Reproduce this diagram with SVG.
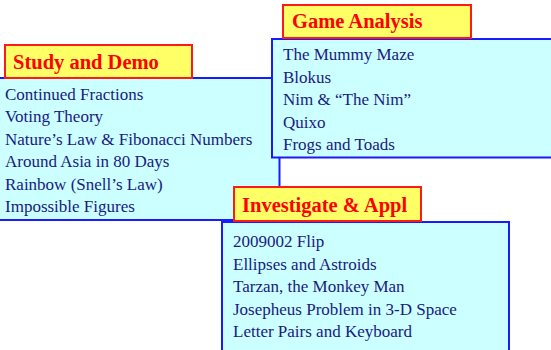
<svg xmlns="http://www.w3.org/2000/svg" width="551" height="350" viewBox="0 0 551 350">
  <style>
    .panel { fill: #ccffff; stroke: #1a1aff; stroke-width: 2; }
    .tag { fill: #ffff66; stroke: #ff1a1a; stroke-width: 2; }
    .tag-text { font-family: "Liberation Serif", serif; font-size: 20.5px; font-weight: bold; fill: #ff0000; }
    .item { font-family: "Liberation Serif", serif; font-size: 17px; fill: #1a1a80; }
  </style>
  <rect width="551" height="350" fill="#ffffff"/>

  <!-- Study and Demo -->
  <g id="study-demo">
    <rect class="panel" x="-5" y="78" width="284.5" height="142"/>
    <rect class="tag" x="5" y="45" width="187" height="33"/>
    <text class="tag-text" x="13" y="69">Study and Demo</text>
    <text class="item" x="5" y="99.5">Continued Fractions</text>
    <text class="item" x="5" y="122">Voting Theory</text>
    <text class="item" x="5" y="144.5">Nature’s Law &amp; Fibonacci Numbers</text>
    <text class="item" x="5" y="167">Around Asia in 80 Days</text>
    <text class="item" x="5" y="189.5">Rainbow (Snell’s Law)</text>
    <text class="item" x="5" y="212">Impossible Figures</text>
  </g>

  <!-- Game Analysis -->
  <g id="game-analysis">
    <rect class="panel" x="272" y="39" width="285" height="118.5"/>
    <rect class="tag" x="283" y="5" width="188" height="33"/>
    <text class="tag-text" x="292" y="28">Game Analysis</text>
    <text class="item" x="283" y="60">The Mummy Maze</text>
    <text class="item" x="283" y="82.5">Blokus</text>
    <text class="item" x="283" y="105">Nim &amp; “The Nim”</text>
    <text class="item" x="283" y="127.5">Quixo</text>
    <text class="item" x="283" y="150">Frogs and Toads</text>
  </g>

  <!-- Investigate & Appl -->
  <g id="investigate-appl">
    <rect class="panel" x="222" y="222" width="287" height="140"/>
    <rect class="tag" x="234" y="187" width="187" height="34"/>
    <text class="tag-text" x="242" y="212">Investigate &amp; Appl</text>
    <text class="item" x="233" y="247">2009002 Flip</text>
    <text class="item" x="233" y="269.5">Ellipses and Astroids</text>
    <text class="item" x="233" y="292">Tarzan, the Monkey Man</text>
    <text class="item" x="233" y="314.5">Josepheus Problem in 3-D Space</text>
    <text class="item" x="233" y="337">Letter Pairs and Keyboard</text>
  </g>

  <g id="connectors"/>
</svg>
